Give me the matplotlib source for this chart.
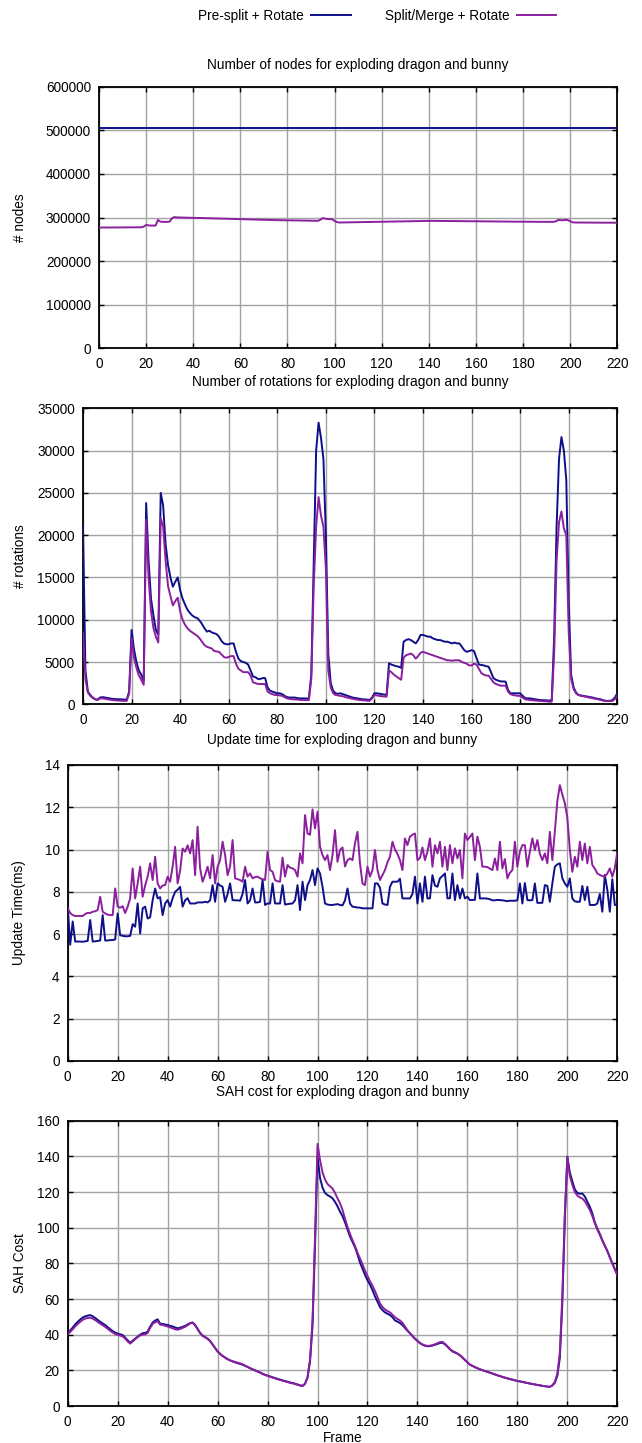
import matplotlib
matplotlib.use("Agg")
import matplotlib.pyplot as plt
from matplotlib.lines import Line2D

plt.rcParams['font.family'] = ['Liberation Sans', 'DejaVu Sans']
plt.rcParams['font.size'] = 9.8

# ---------------------------------------------------------------- data
frames = list(range(221))

series_names = ["Pre-split + Rotate", "Split/Merge + Rotate"]

titles = ["Number of nodes for exploding dragon and bunny",
          "Number of rotations for exploding dragon and bunny",
          "Update time for exploding dragon and bunny",
          "SAH cost for exploding dragon and bunny"]
ylabels = ["# nodes", "# rotations", "Update Time(ms)", "SAH Cost"]
x_ticks = [0, 20, 40, 60, 80, 100, 120, 140, 160, 180, 200, 220]
y_ticks = [[0, 100000, 200000, 300000, 400000, 500000, 600000],
           [0, 5000, 10000, 15000, 20000, 25000, 30000, 35000],
           [0, 2, 4, 6, 8, 10, 12, 14],
           [0, 20, 40, 60, 80, 100, 120, 140, 160]]

nodes_presplit = [
    505000, 505000, 505000, 505000, 505000, 505000, 505000, 505000, 505000, 505000, 505000, 505000, 505000,
    505000, 505000, 505000, 505000, 505000, 505000, 505000, 505000, 505000, 505000, 505000, 505000, 505000,
    505000, 505000, 505000, 505000, 505000, 505000, 505000, 505000, 505000, 505000, 505000, 505000, 505000,
    505000, 505000, 505000, 505000, 505000, 505000, 505000, 505000, 505000, 505000, 505000, 505000, 505000,
    505000, 505000, 505000, 505000, 505000, 505000, 505000, 505000, 505000, 505000, 505000, 505000, 505000,
    505000, 505000, 505000, 505000, 505000, 505000, 505000, 505000, 505000, 505000, 505000, 505000, 505000,
    505000, 505000, 505000, 505000, 505000, 505000, 505000, 505000, 505000, 505000, 505000, 505000, 505000,
    505000, 505000, 505000, 505000, 505000, 505000, 505000, 505000, 505000, 505000, 505000, 505000, 505000,
    505000, 505000, 505000, 505000, 505000, 505000, 505000, 505000, 505000, 505000, 505000, 505000, 505000,
    505000, 505000, 505000, 505000, 505000, 505000, 505000, 505000, 505000, 505000, 505000, 505000, 505000,
    505000, 505000, 505000, 505000, 505000, 505000, 505000, 505000, 505000, 505000, 505000, 505000, 505000,
    505000, 505000, 505000, 505000, 505000, 505000, 505000, 505000, 505000, 505000, 505000, 505000, 505000,
    505000, 505000, 505000, 505000, 505000, 505000, 505000, 505000, 505000, 505000, 505000, 505000, 505000,
    505000, 505000, 505000, 505000, 505000, 505000, 505000, 505000, 505000, 505000, 505000, 505000, 505000,
    505000, 505000, 505000, 505000, 505000, 505000, 505000, 505000, 505000, 505000, 505000, 505000, 505000,
    505000, 505000, 505000, 505000, 505000, 505000, 505000, 505000, 505000, 505000, 505000, 505000, 505000,
    505000, 505000, 505000, 505000, 505000, 505000, 505000, 505000, 505000, 505000, 505000, 505000, 505000,
]

nodes_splitmerge = [
    277000, 277000, 277000, 277000, 277100, 277100, 277100, 277200, 277200, 277200,  # 0
    277300, 277300, 277300, 277400, 277400, 277400, 277500, 277500, 277600, 279000,  # 10
    283000, 282000, 281500, 281500, 281500, 294500, 290500, 290000, 290000, 290000,  # 20
    290500, 298500, 301000, 300200, 300000, 299800, 299700, 299600, 299500, 299400,  # 30
    299300, 299100, 299000, 298800, 298700, 298500, 298400, 298200, 298100, 297900,  # 40
    297800, 297600, 297500, 297300, 297200, 297000, 296900, 296700, 296600, 296400,  # 50
    296300, 296100, 296000, 295800, 295700, 295500, 295400, 295200, 295100, 294900,  # 60
    294800, 294600, 294500, 294300, 294200, 294000, 293900, 293800, 293700, 293600,  # 70
    293500, 293400, 293300, 293200, 293100, 293000, 292900, 292800, 292700, 292600,  # 80
    292600, 292500, 292500, 292400, 295000, 298500, 297500, 296500, 296200, 296000,  # 90
    292000, 289500, 288500, 288600, 288700, 288800, 288900, 289000, 289100, 289200,  # 100
    289300, 289400, 289500, 289600, 289700, 289800, 289900, 290000, 290100, 290200,  # 110
    290300, 290400, 290500, 290600, 290700, 290800, 290900, 291000, 291100, 291200,  # 120
    291300, 291400, 291500, 291600, 291700, 291800, 291900, 292000, 292100, 292200,  # 130
    292300, 292300, 292200, 292200, 292100, 292100, 292000, 292000, 291900, 291900,  # 140
    291800, 291800, 291700, 291700, 291600, 291600, 291500, 291500, 291400, 291400,  # 150
    291300, 291300, 291200, 291200, 291100, 291100, 291000, 291000, 290900, 290900,  # 160
    290800, 290800, 290700, 290700, 290600, 290600, 290500, 290500, 290400, 290400,  # 170
    290300, 290300, 290300, 290200, 290200, 290200, 290100, 290100, 290100, 290000,  # 180
    290000, 290000, 290000, 290000, 291500, 294500, 293800, 293800, 294500, 294000,  # 190
    291500, 289000, 288500, 288500, 288400, 288400, 288400, 288300, 288300, 288300,  # 200
    288200, 288200, 288200, 288200, 288100, 288100, 288100, 288100, 288000, 288000,  # 210
    288000,                                                                          # 220
]

rotations_presplit = [
    21000, 4000, 1500, 1100, 800, 600, 550, 800, 850, 800,              # 0
    750, 700, 650, 620, 600, 600, 580, 560, 560, 1500,                  # 10
    8800, 6500, 5000, 4000, 3500, 2800, 23800, 17000, 12500, 10500,     # 20
    8800, 8200, 25000, 23500, 19000, 16500, 15000, 13900, 14500, 15000, # 30
    13500, 12500, 11800, 11200, 10800, 10500, 10300, 10200, 9900, 9500, # 40
    9000, 8600, 8700, 8500, 8400, 8300, 8000, 7500, 7200, 7100,         # 50
    7100, 7200, 7200, 6200, 5400, 5100, 5000, 4900, 4700, 4000,         # 60
    3300, 3200, 3000, 3000, 3100, 3100, 2000, 1600, 1500, 1400,         # 70
    1300, 1300, 1200, 1000, 850, 800, 800, 800, 750, 700,               # 80
    700, 700, 680, 700, 3500, 17000, 30000, 33300, 31500, 29000,        # 90
    20000, 6000, 2500, 1600, 1300, 1250, 1300, 1200, 1100, 1000,        # 100
    900, 800, 750, 700, 650, 600, 580, 550, 510, 800,                   # 110
    1300, 1300, 1250, 1200, 1150, 1100, 4850, 4700, 4600, 4500,         # 120
    4450, 4300, 7400, 7600, 7700, 7600, 7400, 7200, 7600, 8200,         # 130
    8200, 8100, 8000, 8000, 7800, 7700, 7600, 7600, 7500, 7400,         # 140
    7400, 7300, 7200, 7300, 7200, 7200, 6800, 6400, 6200, 6300,         # 150
    6400, 6300, 5500, 4700, 4650, 4600, 4500, 4450, 3800, 3100,         # 160
    2900, 2800, 2700, 2700, 2680, 1700, 1300, 1300, 1300, 1300,         # 170
    1300, 1000, 750, 700, 700, 650, 600, 550, 510, 500,                 # 180
    480, 460, 440, 500, 8000, 21000, 29000, 31600, 30000, 26500,        # 190
    12000, 3500, 2000, 1400, 1100, 1050, 1000, 950, 900, 850,           # 200
    790, 700, 650, 600, 500, 420, 400, 420, 500, 800,                   # 210
    1300,                                                               # 220
]

rotations_splitmerge = [
    8500, 3000, 1400, 1000, 750, 600, 500, 700, 700, 650,               # 0
    600, 550, 500, 470, 450, 430, 420, 400, 400, 1300,                  # 10
    7800, 5500, 4300, 3400, 2900, 2300, 21800, 15000, 11000, 9000,      # 20
    8000, 7300, 22000, 21000, 17000, 14000, 12800, 11700, 12200, 12600, # 30
    11000, 10000, 9400, 9000, 8700, 8500, 8300, 8100, 7800, 7400,       # 40
    7000, 6800, 6700, 6600, 6300, 6250, 6200, 5900, 5600, 5500,         # 50
    5600, 5700, 5700, 4800, 4200, 4000, 3800, 3800, 3800, 3400,         # 60
    2600, 2500, 2400, 2400, 2400, 2400, 1500, 1300, 1200, 1100,         # 70
    1100, 1050, 1000, 850, 700, 650, 600, 580, 560, 540,                # 80
    500, 500, 500, 500, 3000, 14000, 21000, 24500, 22300, 21000,        # 90
    16000, 4000, 2000, 1300, 1100, 1050, 1000, 950, 850, 780,           # 100
    700, 650, 600, 550, 500, 480, 450, 420, 400, 700,                   # 110
    1100, 1050, 1000, 950, 920, 900, 4000, 3800, 3500, 3300,            # 120
    3100, 2900, 5500, 5800, 5900, 6000, 5800, 5400, 5700, 6100,         # 130
    6200, 6100, 6000, 5900, 5800, 5700, 5600, 5500, 5400, 5300,         # 140
    5200, 5200, 5150, 5200, 5200, 5200, 5000, 4900, 4800, 4600,         # 150
    4600, 4800, 4700, 4200, 3700, 3500, 3400, 3400, 3000, 2600,         # 160
    2400, 2300, 2200, 2200, 2200, 1500, 1200, 1100, 1050, 1000,         # 170
    1000, 800, 600, 550, 500, 480, 450, 420, 400, 380,                  # 180
    350, 330, 310, 300, 6000, 17000, 21500, 22800, 20800, 20000,        # 190
    8500, 3000, 1800, 1300, 1100, 1000, 950, 900, 820, 760,             # 200
    700, 650, 600, 520, 450, 400, 380, 380, 400, 600,                   # 210
    1000,                                                               # 220
]

update_presplit = [
    7.3, 5.5, 6.6, 5.65, 5.65, 5.65, 5.64, 5.66, 5.68, 6.67,         # 0
    5.65, 5.66, 5.68, 5.7, 6.9, 5.7, 5.7, 5.72, 5.72, 5.75,          # 10
    6.98, 5.95, 5.92, 5.9, 5.9, 5.92, 6.47, 6.35, 7.45, 6.03,        # 20
    7.22, 7.3, 6.74, 6.8, 7.6, 8.16, 7.69, 7.75, 6.9, 7.45,          # 30
    7.61, 7.3, 7.7, 8.0, 8.1, 8.24, 7.3, 7.6, 7.7, 7.45,             # 40
    7.45, 7.45, 7.5, 7.5, 7.5, 7.53, 7.5, 7.6, 8.32, 7.53,           # 50
    8.4, 8.3, 8.24, 7.53, 7.9, 8.4, 7.61, 7.6, 7.6, 7.58,            # 60
    7.9, 8.56, 7.45, 7.6, 8.16, 7.5, 7.5, 7.53, 8.56, 7.38,          # 70
    7.45, 7.45, 8.4, 7.45, 7.45, 7.45, 8.32, 7.4, 7.42, 7.44,        # 80
    7.45, 7.6, 8.32, 7.14, 8.48, 7.61, 8.32, 8.56, 9.03, 8.32,       # 90
    9.11, 8.87, 8.24, 7.45, 7.4, 7.38, 7.38, 7.4, 7.42, 7.38,        # 100
    7.36, 7.6, 8.16, 7.45, 7.3, 7.28, 7.26, 7.25, 7.22, 7.22,        # 110
    7.22, 7.22, 7.22, 8.4, 8.4, 8.2, 7.45, 7.4, 7.38, 8.24,          # 120
    8.48, 8.48, 8.48, 8.62, 7.69, 7.69, 7.69, 7.69, 7.9, 8.72,       # 130
    7.45, 8.4, 7.53, 8.72, 7.69, 7.69, 8.79, 8.3, 8.24, 8.64,        # 140
    8.75, 8.87, 7.69, 7.7, 8.87, 7.61, 8.32, 7.69, 8.16, 7.69,       # 150
    7.77, 7.61, 7.62, 7.62, 8.87, 7.69, 7.69, 7.69, 7.68, 7.65,      # 160
    7.6, 7.6, 7.62, 7.61, 7.6, 7.58, 7.56, 7.58, 7.58, 7.58,         # 170
    7.6, 8.4, 7.45, 8.42, 7.61, 7.6, 7.61, 8.4, 7.48, 7.48,          # 180
    7.48, 8.32, 8.28, 7.53, 8.4, 9.19, 9.3, 9.35, 8.64, 8.4,         # 190
    8.24, 8.64, 7.69, 7.55, 7.53, 7.53, 8.28, 7.61, 8.24, 7.38,      # 200
    7.38, 7.38, 7.45, 7.9, 7.06, 8.8, 8.1, 7.06, 8.6, 7.38,          # 210
    7.38,                                                            # 220
]

update_splitmerge = [
    7.22, 7.0, 6.9, 6.86, 6.86, 6.86, 6.86, 6.95, 7.01, 7.0,         # 0
    7.06, 7.08, 7.14, 7.77, 7.06, 6.98, 6.92, 6.9, 6.9, 8.16,        # 10
    7.3, 7.25, 7.32, 7.0, 7.3, 7.69, 9.11, 7.69, 8.4, 9.19,          # 20
    7.77, 8.3, 8.72, 9.35, 8.56, 9.66, 8.4, 8.16, 8.3, 8.32,         # 30
    8.72, 8.48, 9.2, 10.13, 8.4, 9.0, 10.05, 9.9, 10.2, 9.82,        # 40
    10.45, 8.79, 11.08, 9.11, 8.48, 8.8, 9.19, 8.64, 9.74, 8.4,      # 50
    9.19, 9.5, 10.37, 9.74, 8.79, 9.2, 10.45, 8.64, 8.6, 8.56,       # 60
    8.48, 9.19, 8.72, 8.87, 8.64, 8.7, 8.72, 8.64, 8.6, 8.56,        # 70
    9.9, 9.03, 8.95, 8.56, 8.5, 8.48, 9.62, 8.72, 9.27, 9.15,        # 80
    9.11, 9.03, 8.72, 9.82, 9.35, 11.63, 10.76, 10.7, 11.9, 11.0,    # 90
    11.79, 10.13, 9.74, 9.5, 9.74, 9.03, 9.74, 10.92, 9.42, 9.98,    # 100
    10.1, 9.2, 9.5, 9.58, 9.5, 10.3, 10.84, 9.35, 8.4, 8.32,         # 110
    9.19, 8.72, 9.03, 9.98, 9.03, 8.56, 8.8, 9.03, 9.4, 9.66,        # 120
    10.37, 10.0, 9.8, 9.5, 9.03, 10.53, 10.21, 10.61, 10.7, 10.76,   # 130
    9.5, 9.6, 10.1, 9.5, 9.9, 10.53, 9.19, 10.21, 9.82, 10.37,       # 140
    9.19, 10.13, 9.03, 10.21, 9.35, 10.06, 9.58, 9.98, 8.64, 10.76,  # 150
    10.45, 10.6, 10.76, 9.5, 10.61, 10.13, 9.19, 9.19, 9.17, 9.1,    # 160
    9.03, 9.58, 9.03, 10.37, 9.11, 9.55, 8.64, 8.9, 9.03, 10.37,     # 170
    9.19, 9.9, 10.21, 10.21, 9.19, 9.9, 10.53, 9.98, 10.45, 9.8,     # 180
    9.5, 9.82, 9.35, 10.84, 9.5, 10.84, 12.3, 13.05, 12.6, 12.2,     # 190
    11.5, 10.0, 8.95, 9.66, 9.19, 10.37, 9.5, 10.29, 9.35, 10.13,    # 200
    9.27, 9.1, 8.87, 8.8, 8.75, 8.72, 8.87, 9.11, 8.72, 9.11,        # 210
    9.9,                                                             # 220
]

sah_presplit = [
    40.8, 42.3, 44.0, 45.8, 47.2, 48.5, 49.6, 50.3, 50.7, 51.0,      # 0
    50.3, 49.4, 48.3, 47.2, 46.3, 45.4, 44.2, 43.1, 42.0, 41.2,      # 10
    40.6, 40.2, 39.8, 38.4, 36.8, 35.5, 36.6, 37.8, 38.9, 40.0,      # 20
    40.8, 41.0, 41.7, 44.5, 46.8, 47.9, 48.6, 46.2, 46.0, 45.7,      # 30
    45.4, 45.0, 44.6, 44.0, 43.6, 43.9, 44.4, 44.9, 45.7, 46.5,      # 40
    46.8, 45.5, 43.2, 41.0, 39.5, 38.6, 37.8, 36.5, 34.5, 32.4,      # 50
    30.6, 29.3, 28.1, 27.2, 26.3, 25.6, 25.0, 24.5, 24.0, 23.6,      # 60
    23.2, 22.5, 21.9, 21.2, 20.6, 20.0, 19.4, 18.8, 18.1, 17.5,      # 70
    17.0, 16.6, 16.1, 15.7, 15.2, 14.8, 14.4, 14.0, 13.6, 13.2,      # 80
    12.9, 12.5, 12.1, 11.6, 11.3, 12.5, 16.0, 25.0, 45.0, 90.0,      # 90
    140.0, 128.0, 122.5, 119.5, 118.3, 117.5, 116.5, 114.5, 112.0, 109.0,  # 100
    106.5, 103.0, 99.0, 95.0, 92.0, 89.0, 85.0, 80.5, 77.0, 73.5,    # 110
    70.5, 68.0, 65.0, 61.5, 58.5, 55.5, 53.8, 52.5, 51.7, 51.0,      # 120
    49.8, 48.0, 47.3, 46.5, 45.4, 43.8, 42.2, 40.8, 39.3, 37.8,      # 130
    36.5, 35.3, 34.4, 33.8, 33.5, 33.6, 33.9, 34.3, 34.8, 35.3,      # 140
    35.5, 34.6, 33.3, 31.8, 30.6, 30.0, 29.3, 28.4, 27.2, 25.8,      # 150
    24.5, 23.2, 22.5, 21.8, 21.2, 20.6, 20.1, 19.6, 19.2, 18.7,      # 160
    18.2, 17.7, 17.2, 16.8, 16.3, 15.9, 15.5, 15.1, 14.8, 14.4,      # 170
    14.0, 13.8, 13.5, 13.2, 12.9, 12.6, 12.3, 12.1, 11.8, 11.6,      # 180
    11.3, 11.1, 10.9, 10.7, 11.5, 13.0, 17.0, 27.0, 58.0, 105.0,     # 190
    139.8, 131.0, 126.0, 121.5, 119.5, 119.0, 119.2, 117.5, 114.5, 111.8,  # 200
    108.0, 103.0, 99.5, 96.5, 93.0, 90.0, 87.0, 83.5, 80.0, 76.8,    # 210
    73.5,                                                            # 220
]

sah_splitmerge = [
    40.2, 41.5, 43.0, 44.6, 46.0, 47.2, 48.3, 49.0, 49.4, 49.5,      # 0
    49.0, 48.2, 47.2, 46.2, 45.3, 44.4, 43.3, 42.2, 41.2, 40.4,      # 10
    39.9, 39.5, 39.0, 37.8, 36.2, 35.0, 36.2, 37.4, 38.6, 39.6,      # 20
    40.0, 40.2, 41.0, 43.8, 46.0, 47.0, 47.5, 45.6, 45.4, 45.0,      # 30
    44.6, 44.1, 43.6, 43.0, 42.8, 43.2, 43.8, 44.4, 45.3, 46.3,      # 40
    46.8, 45.2, 43.0, 40.8, 39.3, 38.5, 37.6, 36.4, 34.4, 32.3,      # 50
    30.5, 29.2, 28.0, 27.1, 26.2, 25.6, 25.1, 24.7, 24.3, 23.9,      # 60
    23.4, 22.6, 21.9, 21.2, 20.5, 19.9, 19.3, 18.7, 18.0, 17.4,      # 70
    16.9, 16.4, 15.9, 15.5, 15.0, 14.6, 14.2, 13.8, 13.4, 13.0,      # 80
    12.7, 12.3, 11.9, 11.5, 11.2, 12.4, 16.0, 26.0, 48.0, 95.0,      # 90
    147.0, 138.0, 131.0, 127.0, 124.5, 123.2, 122.0, 119.5, 116.5, 113.7,  # 100
    110.0, 105.0, 100.5, 96.5, 93.0, 89.8, 86.0, 82.8, 79.5, 76.0,   # 110
    73.0, 70.0, 67.5, 64.5, 61.0, 57.6, 55.5, 54.2, 53.2, 52.5,      # 120
    51.2, 49.8, 48.8, 48.0, 46.6, 44.5, 42.5, 40.8, 39.2, 37.7,      # 130
    36.4, 35.3, 34.5, 34.0, 33.7, 33.8, 34.1, 34.6, 35.2, 35.8,      # 140
    36.0, 34.9, 33.5, 32.0, 30.9, 30.2, 29.5, 28.5, 27.3, 25.8,      # 150
    24.5, 23.2, 22.5, 21.8, 21.2, 20.6, 20.1, 19.6, 19.2, 18.7,      # 160
    18.2, 17.7, 17.2, 16.8, 16.3, 15.9, 15.5, 15.1, 14.8, 14.4,      # 170
    14.0, 13.8, 13.5, 13.2, 12.9, 12.6, 12.3, 12.1, 11.8, 11.6,      # 180
    11.3, 11.1, 10.9, 10.7, 11.6, 13.5, 18.0, 30.0, 62.0, 108.0,     # 190
    139.8, 129.0, 124.0, 120.0, 118.0, 117.0, 116.4, 114.8, 112.5, 109.9,  # 200
    106.5, 102.5, 99.0, 96.0, 92.8, 89.8, 86.8, 83.3, 80.0, 76.8,    # 210
    73.5,                                                            # 220
]

# ---------------------------------------------------------------- layout
W, H = 642, 1443
BLUE = '#0f0f8a'
PURPLE = '#8b1f9e'
GRID = '#a3a3a3'

# axes boxes in pixels: left, top, right, bottom
boxes = [(99, 86.7, 617.3, 348.3),
         (83, 408.3, 617.3, 704.3),
         (67.7, 765, 617.3, 1061),
         (67.7, 1120.7, 617.3, 1406)]
title_pads = [12.5, 15.9, 14.8, 17.5]


def pixel_rect(left, top, right, bottom):
    """Convert a pixel box (origin top left) to a figure fraction rect."""
    return [left / W, 1 - bottom / H, (right - left) / W, (bottom - top) / H]


def style_axis(ax, box, yt, title, ylabel, pad):
    """Gnuplot-like look: inward mirrored ticks, grey grid, black frame."""
    ax.set_xlim(0, 220)
    ax.set_ylim(yt[0], yt[-1])
    ax.set_xticks(x_ticks)
    ax.set_yticks(yt)
    ax.tick_params(direction='in', length=3.6, width=1.0, top=True, right=True,
                   labelsize=9.8, colors='black')
    ax.tick_params(axis='x', pad=6.2)
    ax.tick_params(axis='y', pad=5.8)
    ax.grid(True, color=GRID, linewidth=1.0)
    ax.set_axisbelow(True)
    for s in ax.spines.values():
        s.set_linewidth(1.3)
        s.set_color('black')
    ax.set_title(title, fontsize=9.8, pad=pad)
    ax.set_ylabel(ylabel, fontsize=9.8, va='center')
    ycenter = 1 - (box[1] + box[3]) / 2 / H
    ax.yaxis.set_label_coords(19.5 / W, ycenter, transform=ax.figure.transFigure)


fig = plt.figure(figsize=(W / 100, H / 100), dpi=100)

panels = [(nodes_presplit, nodes_splitmerge),
          (rotations_presplit, rotations_splitmerge),
          (update_presplit, update_splitmerge),
          (sah_presplit, sah_splitmerge)]

for i, (blue_vals, purple_vals) in enumerate(panels):
    ax = fig.add_axes(pixel_rect(*boxes[i]))
    ax.plot(frames, blue_vals, color=BLUE, linewidth=1.4, zorder=3)
    ax.plot(frames, purple_vals, color=PURPLE, linewidth=1.4, zorder=3)
    style_axis(ax, boxes[i], y_ticks[i], titles[i], ylabels[i], title_pads[i])
    if i == len(panels) - 1:
        ax.set_xlabel("Frame", fontsize=9.8, va='center')
        ax.xaxis.set_label_coords(342.5 / W, 1 - 1438 / H, transform=fig.transFigure)

handles = [Line2D([], [], color=BLUE, linewidth=1.4),
           Line2D([], [], color=PURPLE, linewidth=1.4)]
fig.legend(handles, series_names, loc='center', bbox_to_anchor=(377 / W, 1 - 16 / H),
           ncol=2, markerfirst=False, frameon=False, fontsize=9.8,
           handlelength=2.87, handletextpad=0.6, columnspacing=2.5, borderpad=0)

fig.savefig("out.png", dpi=100)
